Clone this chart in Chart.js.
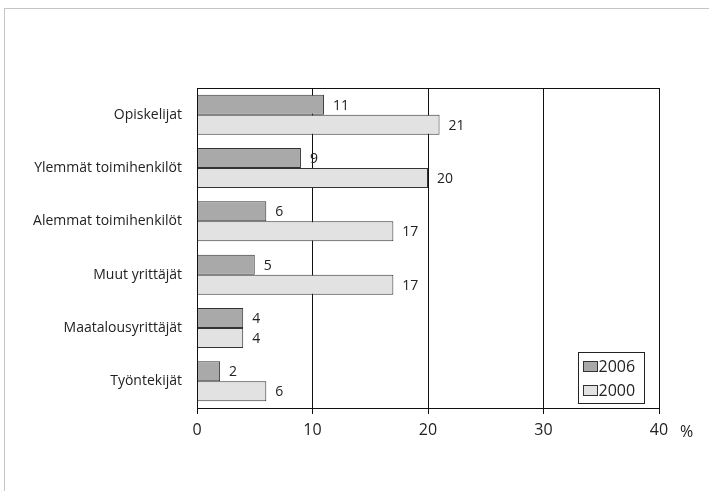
<!DOCTYPE html>
<html lang="fi">
<head>
<meta charset="UTF-8" />
<title>Opiskelijat ja ammattiryhmät</title>
<script src="https://cdn.jsdelivr.net/npm/chart.js"></script>
<style>
  html, body { margin: 0; padding: 0; background: #fff; }
  #wrap { position: relative; width: 709px; height: 491px; }
  #frame {
    position: absolute; left: 4px; top: 8px; right: 0; bottom: 0;
    border-left: 1px solid #c4c4c4; border-top: 1px solid #c4c4c4;
  }
  canvas { position: absolute; left: 0; top: 0; }
</style>
</head>
<body>
<div id="wrap">
  <div id="frame"></div>
  <canvas id="chart" width="709" height="491"></canvas>
</div>
<script>
  // data
  const categories = ["Opiskelijat", "Ylemmät toimihenkilöt", "Alemmat toimihenkilöt",
                      "Muut yrittäjät", "Maatalousyrittäjät", "Työntekijät"];
  const values2006 = [11, 9, 6, 5, 4, 2];
  const values2000 = [21, 20, 17, 17, 4, 6];
  const seriesLabels = ["2006", "2000"];
  const xTicks = [0, 10, 20, 30, 40];

  const FONT = "'Open Sans', sans-serif";
  const INK = "#222";

  // box around the plot area
  const frameBox = {
    id: "frameBox",
    afterDatasetsDraw(chart) {
      const { ctx, chartArea: a } = chart;
      ctx.save();
      ctx.strokeStyle = "#111";
      ctx.lineWidth = 1;
      ctx.strokeRect(Math.round(a.left) + 0.5, Math.round(a.top) + 0.5,
                     Math.round(a.right - a.left), Math.round(a.bottom - a.top));
      ctx.restore();
    }
  };

  // value labels at bar ends
  const valueLabels = {
    id: "valueLabels",
    afterDatasetsDraw(chart) {
      const { ctx } = chart;
      ctx.save();
      ctx.font = "14px " + FONT;
      ctx.fillStyle = INK;
      ctx.textBaseline = "middle";
      chart.data.datasets.forEach((ds, i) => {
        chart.getDatasetMeta(i).data.forEach((bar, j) => {
          ctx.fillText(String(ds.data[j]), bar.x + 9, bar.y + 1);
        });
      });
      ctx.restore();
    }
  };

  // legend box inside the plot, bottom right
  const boxLegend = {
    id: "boxLegend",
    afterDraw(chart) {
      const { ctx, chartArea: a } = chart;
      const w = 66, h = 51;
      const x = Math.round(a.right - 15 - w) + 0.5;
      const y = Math.round(a.bottom - 5 - h) + 0.5;
      ctx.save();
      ctx.fillStyle = "#fff";
      ctx.fillRect(x, y, w, h);
      ctx.strokeStyle = "#222";
      ctx.lineWidth = 1;
      ctx.strokeRect(x, y, w, h);
      ctx.font = "16px " + FONT;
      ctx.textBaseline = "middle";
      chart.data.datasets.forEach((ds, i) => {
        const cy = y + 14 + i * 24;
        ctx.fillStyle = ds.backgroundColor;
        ctx.fillRect(x + 5, cy - 5, 14, 10);
        ctx.strokeStyle = "#333";
        ctx.strokeRect(x + 5, cy - 5, 14, 10);
        ctx.fillStyle = INK;
        ctx.fillText(ds.label, x + 20, cy + 1);
      });
      ctx.restore();
    }
  };

  // "%" unit after the last tick
  const unitLabel = {
    id: "unitLabel",
    afterDraw(chart) {
      const { ctx, chartArea: a } = chart;
      const sx = chart.scales.x;
      ctx.save();
      ctx.font = "16px " + FONT;
      ctx.fillStyle = INK;
      ctx.textBaseline = "middle";
      ctx.fillText("%", sx.getPixelForValue(xTicks[xTicks.length - 1]) + 21, a.bottom + 24);
      ctx.restore();
    }
  };

  new Chart(document.getElementById("chart"), {
    type: "bar",
    data: {
      labels: categories,
      datasets: [
        { label: seriesLabels[0], data: values2006, backgroundColor: "#a9a9a9",
          borderColor: "#333", borderWidth: 1 },
        { label: seriesLabels[1], data: values2000, backgroundColor: "#e2e2e2",
          borderColor: "#333", borderWidth: 1 }
      ]
    },
    options: {
      indexAxis: "y",
      responsive: false,
      animation: false,
      layout: { padding: { top: 88, right: 50, left: 0, bottom: 0 } },
      datasets: { bar: { categoryPercentage: 0.75, barPercentage: 1 } },
      plugins: { legend: { display: false }, tooltip: { enabled: false } },
      scales: {
        x: {
          min: 0, max: 40,
          afterBuildTicks(scale) { scale.ticks = xTicks.map(v => ({ value: v })); },
          afterFit(scale) { scale.height = 83; },
          grid: { color: "#111", lineWidth: 1, tickLength: 6, drawOnChartArea: true },
          border: { color: "#111", width: 1 },
          ticks: { color: INK, font: { family: FONT, size: 16 }, padding: 7 }
        },
        y: {
          afterFit(scale) { scale.width = 197; },
          grid: { display: false },
          border: { color: "#111", width: 1 },
          ticks: { color: INK, font: { family: FONT, size: 14 }, padding: 7 }
        }
      }
    },
    plugins: [frameBox, valueLabels, boxLegend, unitLabel]
  });
</script>
</body>
</html>
